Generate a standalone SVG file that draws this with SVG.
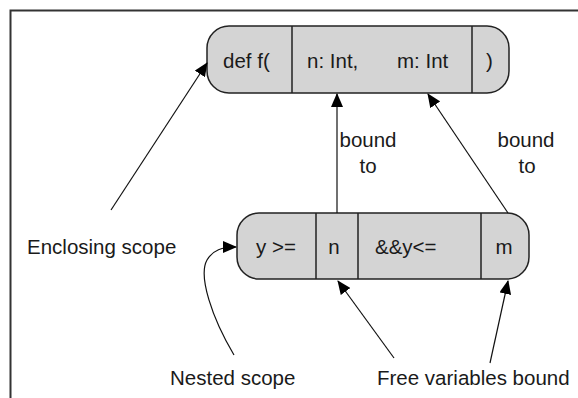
<svg xmlns="http://www.w3.org/2000/svg" width="578" height="398" viewBox="0 0 578 398">
<style>
.t{font-family:"Liberation Sans",Arial,sans-serif;font-size:20.5px;fill:#1a1a1a}
.c{text-anchor:middle}
.box{fill:#d4d4d4;stroke:#222;stroke-width:1.5}
.div{stroke:#222;stroke-width:1.5}
.ln{fill:none;stroke:#111;stroke-width:1.2}
.frame{fill:none;stroke:#333;stroke-width:2}
</style>
<defs>
<marker id="ah" markerUnits="userSpaceOnUse" markerWidth="14" markerHeight="12" viewBox="0 0 14 12" refX="13" refY="6" orient="auto">
<path d="M0,0 L14,6 L0,12 z" fill="#000"/>
</marker>
</defs>
<path class="frame" d="M10.5,398 V10.5 H578"/>
<g id="top-node">
<rect class="box" x="207" y="26" width="302" height="67" rx="22" ry="22"/>
<line class="div" x1="292" y1="26" x2="292" y2="93"/>
<line class="div" x1="472" y1="26" x2="472" y2="93"/>
<text class="t" x="223" y="68">def f(</text>
<text class="t" x="307" y="68">n: Int,</text>
<text class="t" x="397" y="68">m: Int</text>
<text class="t" x="486" y="68">)</text>
</g>
<g id="bottom-node">
<rect class="box" x="237" y="213" width="292" height="66" rx="22" ry="22"/>
<line class="div" x1="316" y1="213" x2="316" y2="279"/>
<line class="div" x1="358" y1="213" x2="358" y2="279"/>
<line class="div" x1="481" y1="213" x2="481" y2="279"/>
<text class="t" x="256" y="254">y &gt;=</text>
<text class="t c" x="334" y="254">n</text>
<text class="t" x="375" y="254">&amp;&amp;y&lt;=</text>
<text class="t c" x="504" y="254">m</text>
</g>
<g id="labels">
<text class="t" x="27" y="254">Enclosing scope</text>
<text class="t" x="170" y="385">Nested scope</text>
<text class="t" x="377" y="385">Free variables bound</text>
<text class="t c" x="368" y="147">bound</text>
<text class="t c" x="368" y="173">to</text>
<text class="t c" x="526" y="147">bound</text>
<text class="t c" x="527" y="173">to</text>
</g>
<g id="connectors">
<line class="ln" x1="111" y1="210" x2="207" y2="63" marker-end="url(#ah)"/>
<line class="ln" x1="337" y1="213" x2="337" y2="94" marker-end="url(#ah)"/>
<line class="ln" x1="508" y1="213" x2="428" y2="94" marker-end="url(#ah)"/>
<path class="ln" d="M234,355 C212,318 198,276 207,260 C213,250 222,247 236,247" marker-end="url(#ah)"/>
<line class="ln" x1="394" y1="358" x2="338" y2="281" marker-end="url(#ah)"/>
<line class="ln" x1="490" y1="363" x2="508" y2="281" marker-end="url(#ah)"/>
</g>
</svg>
